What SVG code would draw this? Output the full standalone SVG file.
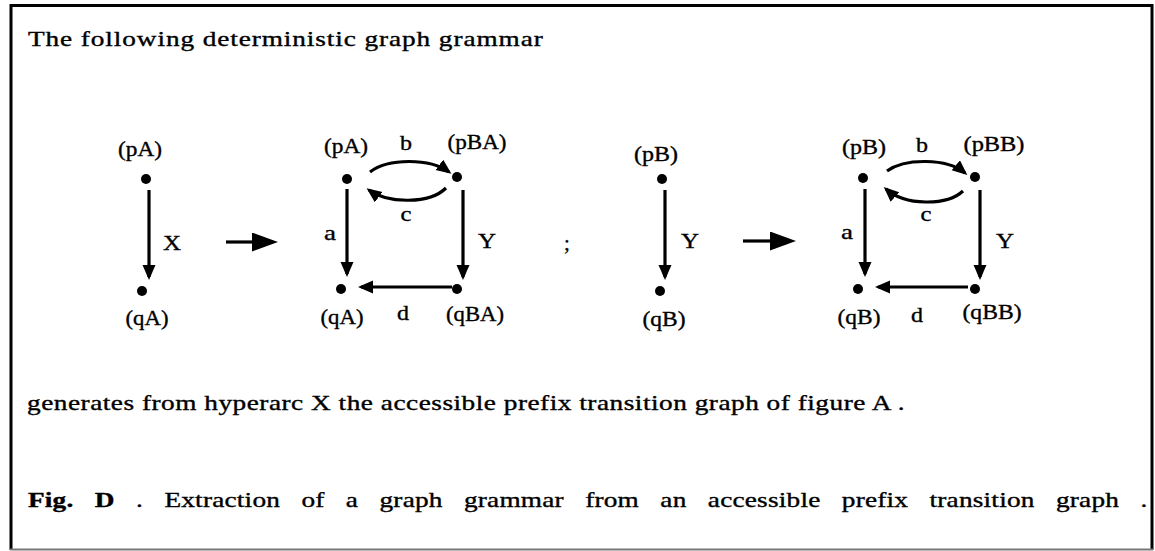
<svg xmlns="http://www.w3.org/2000/svg" width="1155" height="551" viewBox="0 0 1155 551">
<style>
text{font-family:"Liberation Serif","Times New Roman",serif;fill:#000;stroke:#000;stroke-width:0.35}
.t{font-size:21px}
.lb{font-size:21px;text-anchor:middle}
.el{font-size:21px;text-anchor:middle}
.e{stroke:#000;stroke-width:3.2;fill:none}
.dot{fill:#000}
.fr{stroke:#000;stroke-width:3;fill:none}
</style>
<defs>
<marker id="ah" markerUnits="userSpaceOnUse" markerWidth="16" markerHeight="14" refX="12" refY="6.5" orient="auto">
<path d="M0,0 L15,6.5 L0,13 z" fill="#000"/>
</marker>
<marker id="big" markerUnits="userSpaceOnUse" markerWidth="28" markerHeight="20" refX="1" refY="9.5" orient="auto">
<path d="M0,0 L26,9.5 L0,19 z" fill="#000"/>
</marker>
</defs>
<rect x="0" y="0" width="1155" height="551" fill="#fff"/>
<g id="frame">
<line class="fr" x1="10" y1="5.5" x2="1153" y2="5.5"/>
<line class="fr" x1="11" y1="4" x2="11" y2="550"/>
<line class="fr" x1="1152" y1="4" x2="1152" y2="550"/>
<line x1="10" y1="549.5" x2="1153" y2="549.5" stroke="#777" stroke-width="2"/>
</g>
<text class="t" transform="scale(1.3,1)" x="21.5" y="46" textLength="396" lengthAdjust="spacing">The following deterministic graph grammar</text>
<text class="t" transform="scale(1.3,1)" x="20.8" y="410" textLength="675" lengthAdjust="spacing">generates from hyperarc X the accessible prefix transition graph of figure A .</text>
<text class="t" transform="scale(1.3,1)" x="21.5" y="507" word-spacing="11" textLength="861" lengthAdjust="spacing"><tspan font-weight="bold">Fig. D</tspan> . Extraction of a graph grammar from an accessible prefix transition graph .</text>
<g id="connectors">
<line class="e" x1="149" y1="190" x2="149" y2="277" marker-end="url(#ah)"/>
<line class="e" x1="226" y1="242" x2="253" y2="242" marker-end="url(#big)"/>
<line class="e" x1="347" y1="189" x2="347" y2="274" marker-end="url(#ah)"/>
<path class="e" d="M370,172 C388,158 430,158 449,172" marker-end="url(#ah)"/>
<path class="e" d="M446,188 C430,204 388,204 369,190" marker-end="url(#ah)"/>
<line class="e" x1="463" y1="190" x2="463" y2="277" marker-end="url(#ah)"/>
<line class="e" x1="452" y1="287" x2="361" y2="287" marker-end="url(#ah)"/>
<line class="e" x1="665" y1="190" x2="665" y2="277" marker-end="url(#ah)"/>
<line class="e" x1="743" y1="241" x2="771" y2="241" marker-end="url(#big)"/>
<line class="e" x1="865" y1="189" x2="865" y2="274" marker-end="url(#ah)"/>
<path class="e" d="M887,171 C905,158 947,158 965,173" marker-end="url(#ah)"/>
<path class="e" d="M963,191 C947,206 905,206 886,189" marker-end="url(#ah)"/>
<line class="e" x1="980" y1="190" x2="980" y2="277" marker-end="url(#ah)"/>
<line class="e" x1="968" y1="287" x2="878" y2="287" marker-end="url(#ah)"/>
</g>
<g id="n1-pA"><circle class="dot" cx="146" cy="179" r="5"/><text class="lb" x="140" y="156" textLength="44" lengthAdjust="spacingAndGlyphs">(pA)</text></g>
<g id="n1-qA"><circle class="dot" cx="142" cy="291" r="5"/><text class="lb" x="147" y="325" textLength="43" lengthAdjust="spacingAndGlyphs">(qA)</text></g>
<text class="el" x="172" y="250" textLength="18" lengthAdjust="spacingAndGlyphs">X</text>
<g id="n2-pA"><circle class="dot" cx="347" cy="179" r="5"/><text class="lb" x="346" y="153" textLength="44" lengthAdjust="spacingAndGlyphs">(pA)</text></g>
<g id="n2-pBA"><circle class="dot" cx="457" cy="177" r="5"/><text class="lb" x="477" y="149" textLength="59" lengthAdjust="spacingAndGlyphs">(pBA)</text></g>
<g id="n2-qA"><circle class="dot" cx="341" cy="289" r="5"/><text class="lb" x="342" y="324" textLength="43" lengthAdjust="spacingAndGlyphs">(qA)</text></g>
<g id="n2-qBA"><circle class="dot" cx="457" cy="289" r="5"/><text class="lb" x="475" y="321" textLength="58" lengthAdjust="spacingAndGlyphs">(qBA)</text></g>
<text class="el" x="330" y="240" textLength="12" lengthAdjust="spacingAndGlyphs">a</text>
<text class="el" x="406" y="150" textLength="12" lengthAdjust="spacingAndGlyphs">b</text>
<text class="el" x="406" y="221" textLength="11" lengthAdjust="spacingAndGlyphs">c</text>
<text class="el" x="403" y="320" textLength="12" lengthAdjust="spacingAndGlyphs">d</text>
<text class="el" x="487" y="248" textLength="18" lengthAdjust="spacingAndGlyphs">Y</text>
<text class="el" x="567" y="250" font-size="36" stroke-width="1.2">;</text>
<g id="n3-pB"><circle class="dot" cx="662" cy="179" r="5"/><text class="lb" x="656" y="161" textLength="44" lengthAdjust="spacingAndGlyphs">(pB)</text></g>
<g id="n3-qB"><circle class="dot" cx="660" cy="291" r="5"/><text class="lb" x="664" y="326" textLength="43" lengthAdjust="spacingAndGlyphs">(qB)</text></g>
<text class="el" x="690" y="248" textLength="18" lengthAdjust="spacingAndGlyphs">Y</text>
<g id="n4-pB"><circle class="dot" cx="863" cy="178" r="5"/><text class="lb" x="864" y="154" textLength="44" lengthAdjust="spacingAndGlyphs">(pB)</text></g>
<g id="n4-pBB"><circle class="dot" cx="975" cy="177" r="5"/><text class="lb" x="994" y="151" textLength="61" lengthAdjust="spacingAndGlyphs">(pBB)</text></g>
<g id="n4-qB"><circle class="dot" cx="858" cy="289" r="5"/><text class="lb" x="859" y="324" textLength="43" lengthAdjust="spacingAndGlyphs">(qB)</text></g>
<g id="n4-qBB"><circle class="dot" cx="975" cy="289" r="5"/><text class="lb" x="992" y="319" textLength="59" lengthAdjust="spacingAndGlyphs">(qBB)</text></g>
<text class="el" x="847" y="239" textLength="12" lengthAdjust="spacingAndGlyphs">a</text>
<text class="el" x="922" y="152" textLength="12" lengthAdjust="spacingAndGlyphs">b</text>
<text class="el" x="926" y="221" textLength="11" lengthAdjust="spacingAndGlyphs">c</text>
<text class="el" x="917" y="322" textLength="12" lengthAdjust="spacingAndGlyphs">d</text>
<text class="el" x="1005" y="248" textLength="18" lengthAdjust="spacingAndGlyphs">Y</text>
</svg>
